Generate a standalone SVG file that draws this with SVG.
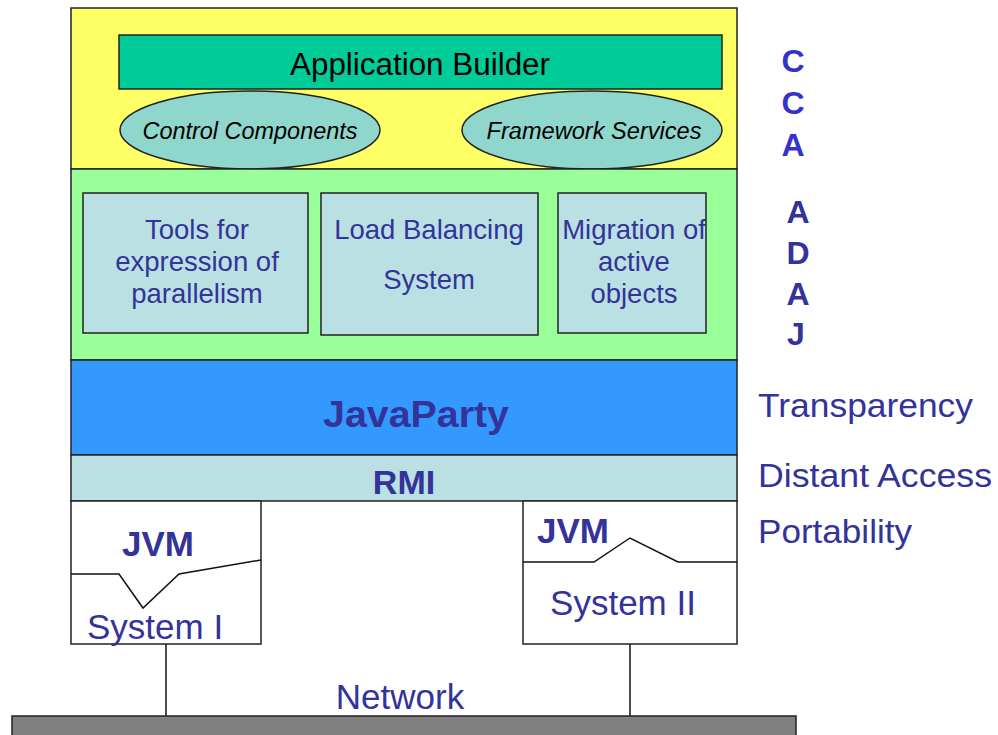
<svg xmlns="http://www.w3.org/2000/svg" width="998" height="735" viewBox="0 0 998 735">
<style>
text{font-family:"Liberation Sans",Arial,sans-serif;fill:#333399}
.bx{stroke:#222;stroke-width:1.5}
.t28{font-size:27.5px;text-anchor:middle}
.side{font-size:33px}
.lt{font-size:35px;font-weight:bold;text-anchor:middle}
.ln{fill:none;stroke:#111;stroke-width:1.5}
.cca{font-size:32px;font-weight:bold;text-anchor:middle}
</style>
<rect width="998" height="735" fill="#fff"/>
<g id="ccaa-layer">
<rect class="bx" x="71" y="8" width="666" height="161" fill="#FFFF66"/>
</g>
<g id="app-builder">
<rect class="bx" x="119" y="35" width="603" height="54" fill="#00CC99"/>
<text x="420" y="75" font-size="31" text-anchor="middle" textLength="260" lengthAdjust="spacingAndGlyphs" style="fill:#000">Application Builder</text>
</g>
<g id="control-components">
<ellipse class="bx" cx="250" cy="130" rx="130" ry="39" fill="#8FD6CC"/>
<text x="250" y="139" font-size="23" font-style="italic" text-anchor="middle" textLength="215" lengthAdjust="spacingAndGlyphs" style="fill:#000">Control Components</text>
</g>
<g id="framework-services">
<ellipse class="bx" cx="592" cy="130" rx="130" ry="39" fill="#8FD6CC"/>
<text x="594" y="139" font-size="23" font-style="italic" text-anchor="middle" textLength="215" lengthAdjust="spacingAndGlyphs" style="fill:#000">Framework Services</text>
</g>
<g id="adaj-layer">
<rect class="bx" x="71" y="169" width="666" height="191" fill="#99FF99"/>
</g>
<g id="tools">
<rect class="bx" x="83" y="193" width="225" height="140" fill="#BAE0E3"/>
<text class="t28" x="197" y="239">Tools for</text>
<text class="t28" x="197" y="271">expression of</text>
<text class="t28" x="197" y="303">parallelism</text>
</g>
<g id="load-balancing">
<rect class="bx" x="321" y="193" width="217" height="142" fill="#BAE0E3"/>
<text class="t28" x="429" y="239">Load Balancing</text>
<text class="t28" x="429" y="289">System</text>
</g>
<g id="migration">
<rect class="bx" x="558" y="193" width="148" height="140" fill="#BAE0E3"/>
<text class="t28" x="634" y="239">Migration of</text>
<text class="t28" x="634" y="271">active</text>
<text class="t28" x="634" y="303">objects</text>
</g>
<g id="javaparty">
<rect class="bx" x="71" y="360" width="666" height="95" fill="#3399FF"/>
<text x="416" y="427" font-size="37" font-weight="bold" text-anchor="middle" textLength="186" lengthAdjust="spacingAndGlyphs">JavaParty</text>
</g>
<g id="rmi">
<rect class="bx" x="71" y="455" width="666" height="46" fill="#BAE0E3"/>
<text x="404" y="494" font-size="34" font-weight="bold" text-anchor="middle">RMI</text>
</g>
<g id="system1">
<rect x="71" y="501" width="190" height="143" fill="#fff" class="bx"/>
<polyline class="ln" points="71,574 119,574 143,608 179,574 261,560"/>
<text class="lt" x="158" y="556">JVM</text>
<text x="87" y="639" font-size="35">System I</text>
</g>
<g id="system2">
<rect x="523" y="501" width="214" height="143" fill="#fff" class="bx"/>
<polyline class="ln" points="523,562 594,562 630,538 678,562 737,562"/>
<text class="lt" x="573" y="543">JVM</text>
<text x="623" y="615" font-size="35" text-anchor="middle">System II</text>
</g>
<g id="network">
<rect x="12" y="716" width="784" height="25" fill="#808080" class="bx"/>
<text x="400" y="709" font-size="35" text-anchor="middle">Network</text>
</g>
<g id="connectors">
<line class="ln" x1="166" y1="644" x2="166" y2="716"/>
<line class="ln" x1="630" y1="644" x2="630" y2="716"/>
</g>
<g id="labels">
<text class="cca" x="793" y="72" style="fill:#3333CC">C</text>
<text class="cca" x="793" y="114" style="fill:#3333CC">C</text>
<text class="cca" x="793" y="156" style="fill:#3333CC">A</text>
<text class="cca" x="798" y="223">A</text>
<text class="cca" x="798" y="264">D</text>
<text class="cca" x="798" y="305">A</text>
<text class="cca" x="796" y="345">J</text>
<text class="side" x="758" y="417" textLength="215" lengthAdjust="spacingAndGlyphs">Transparency</text>
<text class="side" x="758" y="487" textLength="234" lengthAdjust="spacingAndGlyphs">Distant Access</text>
<text class="side" x="758" y="543" textLength="154" lengthAdjust="spacingAndGlyphs">Portability</text>
</g>
</svg>
